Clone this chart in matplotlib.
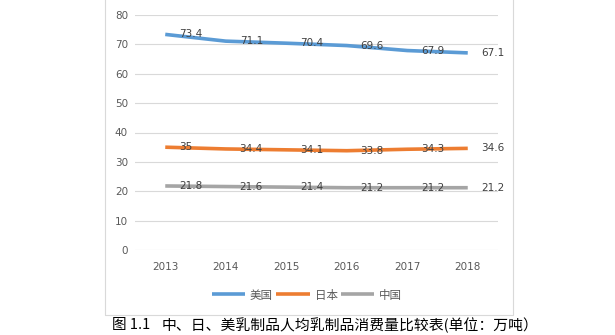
import matplotlib.pyplot as plt
from matplotlib.patches import Rectangle

plt.rcParams['font.family'] = ['Noto Sans CJK SC', 'DejaVu Sans']

years = ['2013', '2014', '2015', '2016', '2017', '2018']
usa = [73.4, 71.1, 70.4, 69.6, 67.9, 67.1]
japan = [35, 34.4, 34.1, 33.8, 34.3, 34.6]
china = [21.8, 21.6, 21.4, 21.2, 21.2, 21.2]
series_names = ['美国', '日本', '中国']
colors = ['#5B9BD5', '#ED7D31', '#A5A5A5']
fig_no = '图 1.1'
caption = '中、日、美乳制品人均乳制品消费量比较表(单位：万吨）'

fig = plt.figure(figsize=(6.15, 3.35), dpi=100)
ax = fig.add_axes((135 / 615, 1 - 250 / 335, 363 / 615, 235 / 335))

# chart frame
fig.patches.append(Rectangle((105 / 615, 1 - 315 / 335), 408 / 615, 320 / 335,
                             transform=fig.transFigure, fill=False,
                             edgecolor='#D9D9D9', linewidth=0.8, zorder=0))

x = range(len(years))
for vals, name, c in zip((usa, japan, china), series_names, colors):
    ax.plot(x, vals, color=c, linewidth=2.6, solid_capstyle='butt', label=name)
    for xi, v in zip(x, vals):
        ax.annotate(f'{v:g}', (xi, v), xytext=(10, 0), textcoords='offset points',
                    ha='left', va='center', fontsize=7.5, color='#404040',
                    family='DejaVu Sans')

ax.set_xlim(-0.5, len(years) - 0.5)
ax.set_ylim(0, 80)
ax.set_yticks(range(0, 81, 10))
ax.set_xticks(list(x))
ax.set_xticklabels(years)
ax.yaxis.grid(True, color='#D9D9D9', linewidth=0.8)
ax.set_axisbelow(True)
for s in ax.spines.values():
    s.set_visible(False)
ax.tick_params(length=0, colors='#595959', labelsize=7.5)
ax.tick_params(axis='y', pad=5)
ax.tick_params(axis='x', pad=9)
for lbl in ax.get_xticklabels() + ax.get_yticklabels():
    lbl.set_family('DejaVu Sans')

fig.legend(loc='center', bbox_to_anchor=(307 / 615, 1 - 295 / 335), ncol=3,
           frameon=False, fontsize=8.3, handlelength=2.9, handletextpad=0.4,
           columnspacing=0.3, labelcolor='#595959')

fig.text(112 / 615, 1 - 325 / 335, fig_no, ha='left', va='center', fontsize=10.5,
         color='#000000')
fig.text(162 / 615, 1 - 325 / 335, caption, ha='left', va='center', fontsize=10.7,
         color='#000000')

fig.savefig('out.png', dpi=100)
